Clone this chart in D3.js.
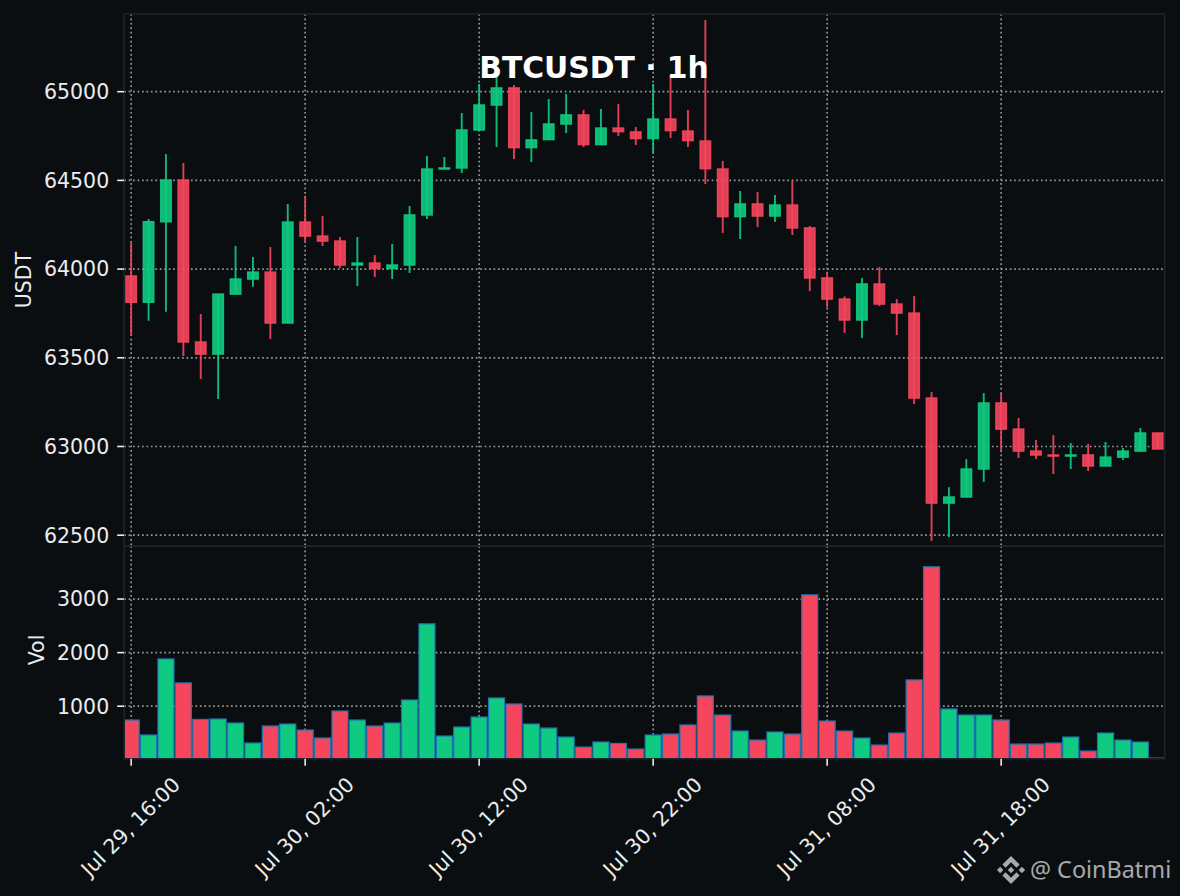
<!DOCTYPE html>
<html>
<head>
<meta charset="utf-8">
<script src="https://cdn.jsdelivr.net/npm/d3@7"></script>
<style>
  html, body { margin: 0; padding: 0; background: #0b0e11; overflow: hidden; }
  svg { display: block; font-family: "DejaVu Sans", sans-serif; }
</style>
</head>
<body>
<div id="chart"></div>
<script>
const opens = [63961, 63813, 64267, 64502, 63589, 63521, 63859, 63944, 63983, 63696,
  64265, 64186, 64158, 64023, 64034, 64003, 64023, 64305, 64564, 64570,
  64784, 64925, 65021, 64685, 64730, 64818, 64869, 64702, 64795, 64773,
  64736, 64846, 64778, 64722, 64564, 64296, 64367, 64299, 64361, 64232,
  63950, 63831, 63713, 63916, 63803, 63752, 63273, 62681, 62715, 62873,
  63245, 63098, 62974, 62952, 62946, 62952, 62890, 62940, 62974, 63076];
const highs = [64147, 64282, 64649, 64598, 63747, 63859, 64130, 64068, 64124, 64367,
  64414, 64299, 64181, 64181, 64079, 64141, 64356, 64637, 64632, 64880,
  65043, 65089, 65038, 64886, 64959, 64987, 64897, 64902, 64931, 64801,
  65043, 65094, 64897, 65404, 64609, 64440, 64435, 64418, 64497, 64243,
  63985, 63846, 63950, 64012, 63831, 63848, 63307, 62771, 62929, 63301,
  63301, 63160, 63036, 63065, 63019, 63014, 63025, 62991, 63104, 63076];
const lows = [63623, 63709, 63760, 63510, 63380, 63267, 63859, 63901, 63606, 63696,
  64158, 64130, 64006, 63905, 63955, 63944, 63978, 64282, 64564, 64542,
  64784, 64688, 64621, 64604, 64730, 64767, 64688, 64702, 64750, 64700,
  64656, 64739, 64688, 64480, 64203, 64170, 64237, 64265, 64192, 63876,
  63784, 63640, 63611, 63792, 63628, 63239, 62467, 62489, 62715, 62800,
  62967, 62935, 62930, 62845, 62873, 62862, 62890, 62924, 62974, 62986];
const closes = [63813, 64267, 64502, 63589, 63521, 63859, 63944, 63983, 63696, 64265,
  64186, 64158, 64023, 64034, 64003, 64023, 64305, 64564, 64570, 64784,
  64925, 65021, 64685, 64728, 64818, 64869, 64702, 64795, 64775, 64736,
  64846, 64781, 64724, 64566, 64296, 64367, 64299, 64361, 64232, 63950,
  63831, 63713, 63916, 63803, 63752, 63273, 62681, 62715, 62873, 63245,
  63098, 62974, 62952, 62946, 62952, 62890, 62940, 62974, 63076, 62986];
const volumes = [742, 462, 1882, 1434, 753, 761, 686, 312, 630, 667,
  555, 406, 910, 742, 630, 686, 1116, 2536, 443, 611,
  798, 1153, 1041, 667, 592, 424, 237, 331, 305, 200,
  462, 480, 649, 1191, 835, 536, 368, 518, 480, 3078,
  723, 536, 406, 275, 499, 1490, 3602, 948, 835, 835,
  742, 293, 293, 312, 424, 163, 499, 368, 331, 32];

const timeTickIndex = [0, 10, 20, 30, 40, 50];
const timeTickLabels = ["Jul 29, 16:00", "Jul 30, 02:00", "Jul 30, 12:00", "Jul 30, 22:00", "Jul 31, 08:00", "Jul 31, 18:00"];
const priceTicks = [62500, 63000, 63500, 64000, 64500, 65000];
const volumeTicks = [1000, 2000, 3000];

const WIDTH = 1180;
const HEIGHT = 896;
const LEFT = 124.2;
const RIGHT = 1164.7;
const PRICE_TOP = 14;
const PRICE_BOTTOM = 546;
const VOL_BOTTOM = 758.8;

const UP = "#0ecb81";
const DOWN = "#f6465d";
const SPINE = "#1e2329";
const TEXT = "#eaecef";
const FONT_SIZE = 20.5;

const x = d3.scaleLinear().domain([-0.4, 59.4]).range([LEFT, RIGHT]);
const y = d3.scaleLinear().domain([62439, 65438]).range([PRICE_BOTTOM, PRICE_TOP]);
const yVol = d3.scaleLinear().domain([18, 3990]).range([VOL_BOTTOM, PRICE_BOTTOM]);

const indexes = d3.range(closes.length);
const colorOf = (i) => (closes[i] >= opens[i] ? UP : DOWN);
const step = x(1) - x(0);

const svg = d3
  .select("#chart")
  .append("svg")
  .attr("width", WIDTH)
  .attr("height", HEIGHT);

svg.append("rect").attr("width", WIDTH).attr("height", HEIGHT).attr("fill", "#0b0e11");

const defs = svg.append("defs");
defs
  .append("clipPath")
  .attr("id", "clip-price")
  .append("rect")
  .attr("x", LEFT)
  .attr("y", PRICE_TOP)
  .attr("width", RIGHT - LEFT)
  .attr("height", PRICE_BOTTOM - PRICE_TOP);
defs
  .append("clipPath")
  .attr("id", "clip-vol")
  .append("rect")
  .attr("x", LEFT)
  .attr("y", PRICE_BOTTOM)
  .attr("width", RIGHT - LEFT)
  .attr("height", VOL_BOTTOM - PRICE_BOTTOM);

// grid
function grid(g, top, bottom, scale, values) {
  const style = (sel) =>
    sel
      .attr("stroke", "#969696")
      .attr("stroke-width", 1.7)
      .attr("stroke-dasharray", "1.7 2.75")
      .attr("fill", "none");

  g.selectAll(".gx")
    .data(timeTickIndex)
    .join("line")
    .attr("class", "gx")
    .attr("x1", (d) => x(d))
    .attr("x2", (d) => x(d))
    .attr("y1", top)
    .attr("y2", bottom)
    .call(style);

  g.selectAll(".gy")
    .data(values)
    .join("line")
    .attr("class", "gy")
    .attr("x1", LEFT)
    .attr("x2", RIGHT)
    .attr("y1", (d) => scale(d))
    .attr("y2", (d) => scale(d))
    .call(style);
}

svg.append("g").call(grid, PRICE_TOP, PRICE_BOTTOM, y, priceTicks);
svg.append("g").call(grid, PRICE_BOTTOM, VOL_BOTTOM, yVol, volumeTicks);

// candles
const candles = svg.append("g").attr("clip-path", "url(#clip-price)");

candles
  .selectAll(".wick")
  .data(indexes)
  .join("line")
  .attr("class", "wick")
  .attr("x1", (i) => x(i))
  .attr("x2", (i) => x(i))
  .attr("y1", (i) => y(highs[i]))
  .attr("y2", (i) => y(lows[i]))
  .attr("stroke", colorOf)
  .attr("stroke-opacity", 0.9)
  .attr("stroke-width", 1.9);

const bodyWidth = step * 0.6;

candles
  .selectAll(".body")
  .data(indexes)
  .join("rect")
  .attr("class", "body")
  .attr("x", (i) => x(i) - bodyWidth / 2)
  .attr("width", bodyWidth)
  .attr("y", (i) => y(Math.max(opens[i], closes[i])))
  .attr("height", (i) => Math.abs(y(opens[i]) - y(closes[i])))
  .attr("fill", colorOf)
  .attr("fill-opacity", 0.9)
  .attr("stroke", colorOf)
  .attr("stroke-opacity", 0.9)
  .attr("stroke-width", 1.5);

// volume
const barWidth = step * 0.92;

svg
  .append("g")
  .attr("clip-path", "url(#clip-vol)")
  .selectAll("rect")
  .data(indexes)
  .join("rect")
  .attr("x", (i) => x(i) - barWidth / 2)
  .attr("width", barWidth)
  .attr("y", (i) => yVol(volumes[i]))
  .attr("height", (i) => VOL_BOTTOM - yVol(volumes[i]))
  .attr("fill", colorOf)
  .attr("stroke", "#1f77b4")
  .attr("stroke-width", 1.2);

// frames
[[PRICE_TOP, PRICE_BOTTOM], [PRICE_BOTTOM, VOL_BOTTOM]].forEach(([top, bottom]) => {
  svg
    .append("rect")
    .attr("x", LEFT)
    .attr("y", top)
    .attr("width", RIGHT - LEFT)
    .attr("height", bottom - top)
    .attr("fill", "none")
    .attr("stroke", SPINE)
    .attr("stroke-width", 1.6);
});

// axes
function styleAxis(g) {
  g.select(".domain").remove();
  g.selectAll(".tick line").attr("stroke", TEXT).attr("stroke-width", 1.6);
  g.selectAll(".tick text")
    .attr("fill", TEXT)
    .attr("font-size", FONT_SIZE)
    .attr("dy", "0.36em")
    .attr("font-family", '"DejaVu Sans", sans-serif');
}

svg
  .append("g")
  .attr("transform", `translate(${LEFT},0)`)
  .call(d3.axisLeft(y).tickValues(priceTicks).tickFormat(d3.format("d")).tickSize(7).tickPadding(8).offset(0))
  .call(styleAxis);

svg
  .append("g")
  .attr("transform", `translate(${LEFT},0)`)
  .call(d3.axisLeft(yVol).tickValues(volumeTicks).tickFormat(d3.format("d")).tickSize(7).tickPadding(8).offset(0))
  .call(styleAxis);

svg
  .append("g")
  .attr("transform", `translate(0,${VOL_BOTTOM})`)
  .call(
    d3
      .axisBottom(x)
      .tickValues(timeTickIndex)
      .tickFormat((d, i) => timeTickLabels[i])
      .tickSize(7)
      .offset(0)
  )
  .call(styleAxis)
  .selectAll(".tick text")
  .attr("text-anchor", "middle")
  .attr("dy", null)
  .attr("dominant-baseline", "central")
  .attr("y", 0)
  .attr("transform", "translate(-0.5,68) rotate(-45)");

svg
  .append("text")
  .attr("transform", "translate(24,280) rotate(-90)")
  .attr("text-anchor", "middle")
  .attr("dominant-baseline", "central")
  .attr("fill", TEXT)
  .attr("font-size", FONT_SIZE)
  .text("USDT");

svg
  .append("text")
  .attr("transform", "translate(37,650) rotate(-90)")
  .attr("text-anchor", "middle")
  .attr("dominant-baseline", "central")
  .attr("fill", TEXT)
  .attr("font-size", FONT_SIZE)
  .text("Vol");

svg
  .append("text")
  .attr("x", 594)
  .attr("y", 78)
  .attr("text-anchor", "middle")
  .attr("fill", "#ffffff")
  .attr("font-size", 29.8)
  .attr("font-weight", "bold")
  .text("BTCUSDT · 1h");

// watermark
const mark = svg.append("g").attr("opacity", 0.8);

mark
  .append("path")
  .attr("transform", "translate(997,856) scale(1.17)")
  .attr("fill", "#d0d0d0")
  .attr(
    "d",
    "M16.624 13.9202l2.7175 2.7154-7.353 7.353-7.353-7.352 2.7175-2.7164 4.6355 4.6595 4.6356-4.6595zm4.6366-4.6366L24 12l-2.7154 2.7164L18.5682 12l2.6924-2.7164zm-9.272.001l2.7163 2.6914-2.7164 2.7174v-.001L9.2721 12l2.7164-2.7154zm-9.2722-.001L5.4088 12l-2.6914 2.6924L0 12l2.7164-2.7164zM11.9885.0115l7.353 7.329-2.7174 2.7154-4.6356-4.6356-4.6355 4.6595-2.7174-2.7154 7.353-7.353z"
  );

mark
  .append("text")
  .attr("x", 1030)
  .attr("y", 878)
  .attr("fill", "#d0d0d0")
  .attr("font-size", 23.4)
  .attr("font-family", '"Noto Sans", sans-serif')
  .text("@ CoinBatmi");
</script>
</body>
</html>
